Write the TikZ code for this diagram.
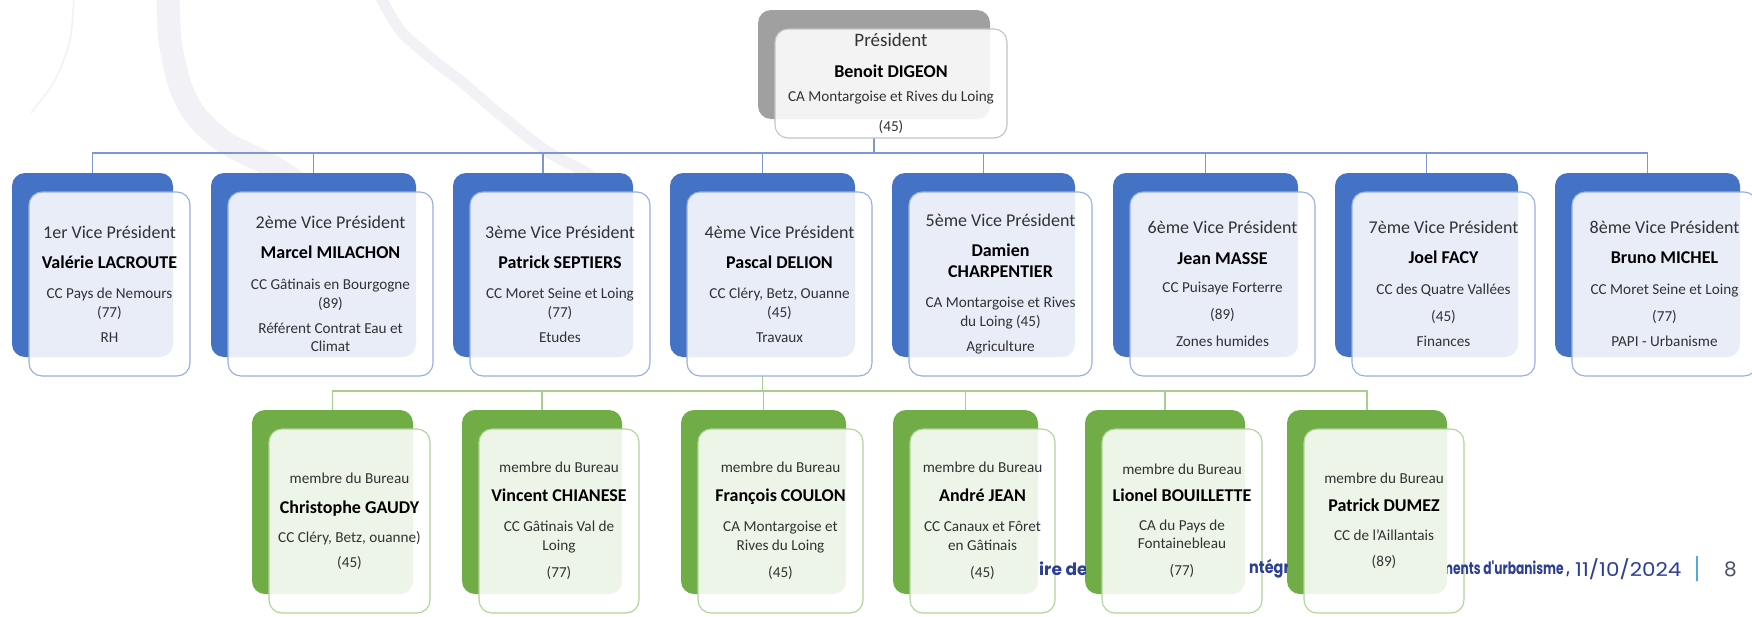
\documentclass[tikz,border=0pt]{standalone}
\usepackage{fontspec}
\usepackage{graphicx}
\setmainfont{Carlito}
\newfontfamily\footfont{Poppins}
\usetikzlibrary{backgrounds,calc}

\definecolor{vpblue}{RGB}{68,114,196}
\definecolor{bgreen}{RGB}{112,173,71}
\definecolor{pgray}{RGB}{160,160,160}
\definecolor{blueedge}{RGB}{150,175,220}
\definecolor{greenedge}{RGB}{175,212,150}
\definecolor{grayedge}{RGB}{195,195,195}
\definecolor{bluecon}{RGB}{125,152,208}
\definecolor{greencon}{RGB}{168,208,140}
\definecolor{txtgray}{RGB}{50,50,50}
\definecolor{footblue}{RGB}{44,62,150}
\definecolor{footbar}{RGB}{80,170,225}
\definecolor{footnum}{RGB}{70,80,110}
\definecolor{wmark}{RGB}{242,242,246}

\newcommand\vptitle[1]{{\fontsize{18}{18.5}\selectfont #1}}
\newcommand\prtitle[1]{{\fontsize{19}{18.5}\selectfont #1}}
\newcommand\pname[1]{{\fontsize{18}{18.5}\selectfont\bfseries\color{black}#1}}

\newcommand\orgunit[8]{%
  \node[backbox, fill=#2, minimum width=#6pt, minimum height=#7pt] (#1b) at (#4,#5) {};
  \node[frontbox, draw=#3, minimum width=#6pt, minimum height=#7pt] (#1f) at ([shift={(17,19)}]#1b.north west) {};
  \node[boxtext] (#1t) at (#1f.center) {#8};
}

\begin{document}
\begin{tikzpicture}[x=1pt,y=-1pt,
  backbox/.style={rectangle, rounded corners=13pt, inner sep=0pt, outer sep=0pt, anchor=north west, draw=none},
  frontbox/.style={rectangle, rounded corners=13pt, inner sep=0pt, outer sep=0pt, anchor=north west, fill=white, fill opacity=0.88, line width=1.1pt},
  boxtext/.style={align=center, inner sep=0pt, text=txtgray, font=\fontsize{15.2}{18.5}\selectfont},
  bluelink/.style={draw=bluecon, line width=1.5pt},
  greenlink/.style={draw=greencon, line width=1.5pt},
  foot/.style={inner sep=0pt, anchor=west, text=footblue, font=\footfont\fontsize{17}{20}\selectfont},
]
\useasboundingbox (0,0) rectangle (1752,616);
\clip (0,0) rectangle (1752,616);

% President
\orgunit{pres}{pgray}{grayedge}{758}{10}{232}{109}{\prtitle{Président}\\[12pt]\pname{Benoit DIGEON}\\[5.5pt]CA Montargoise et Rives du Loing\\[11.5pt](45)}

% Vice presidents
\orgunit{vpa}{vpblue}{blueedge}{12}{173}{161}{184}{\vptitle{1er Vice Président}\\[11.5pt]\pname{Valérie LACROUTE}\\[12pt]CC Pays de Nemours\\(77)\\[6.5pt]RH}
\orgunit{vpb}{vpblue}{blueedge}{211}{173}{205}{184}{\vptitle{2ème Vice Président}\\[11.5pt]\pname{Marcel MILACHON}\\[13pt]CC Gâtinais en Bourgogne\\(89)\\[6.5pt]Référent Contrat Eau et\\Climat}
\orgunit{vpc}{vpblue}{blueedge}{453}{173}{180}{184}{\vptitle{3ème Vice Président}\\[11.5pt]\pname{Patrick SEPTIERS}\\[12pt]CC Moret Seine et Loing\\(77)\\[6.5pt]Etudes}
\orgunit{vpd}{vpblue}{blueedge}{670}{173}{185}{184}{\vptitle{4ème Vice Président}\\[11.5pt]\pname{Pascal DELION}\\[12pt]CC Cléry, Betz, Ouanne\\(45)\\[6.5pt]Travaux}
\orgunit{vpe}{vpblue}{blueedge}{892}{173}{183}{184}{\vptitle{5ème Vice Président}\\[11.5pt]\pname{Damien}\\[3pt]\pname{CHARPENTIER}\\[11.5pt]CA Montargoise et Rives\\du Loing (45)\\[6.5pt]Agriculture}
\orgunit{vpf}{vpblue}{blueedge}{1113}{173}{185}{184}{\vptitle{6ème Vice Président}\\[12pt]\pname{Jean MASSE}\\[10pt]CC Puisaye Forterre\\[8.5pt](89)\\[8.5pt]Zones humides}
\orgunit{vpg}{vpblue}{blueedge}{1335}{173}{183}{184}{\vptitle{7ème Vice Président}\\[11.5pt]\pname{Joel FACY}\\[12pt]CC des Quatre Vallées\\[8.5pt](45)\\[6.5pt]Finances}
\orgunit{vph}{vpblue}{blueedge}{1555}{173}{185}{184}{\vptitle{8ème Vice Président}\\[11.5pt]\pname{Bruno MICHEL}\\[12pt]CC Moret Seine et Loing\\[8.5pt](77)\\[6.5pt]PAPI - Urbanisme}

% Members of the board
\orgunit{ma}{bgreen}{greenedge}{252}{410}{161}{184}{membre du Bureau\\[11.5pt]\pname{Christophe GAUDY}\\[10.5pt]CC Cléry, Betz, ouanne)\\[6.5pt](45)}
\orgunit{mb}{bgreen}{greenedge}{462}{410}{160}{184}{membre du Bureau\\[10.5pt]\pname{Vincent CHIANESE}\\[11.5pt]CC Gâtinais Val de\\Loing\\[8.5pt](77)}
\orgunit{mc}{bgreen}{greenedge}{681}{410}{165}{184}{membre du Bureau\\[10.5pt]\pname{François COULON}\\[11.5pt]CA Montargoise et\\Rives du Loing\\[8.5pt](45)}
\orgunit{md}{bgreen}{greenedge}{893}{410}{145}{184}{membre du Bureau\\[10.5pt]\pname{André JEAN}\\[11.5pt]CC Canaux et Fôret\\en Gâtinais\\[8.5pt](45)}
\orgunit{me}{bgreen}{greenedge}{1085}{410}{160}{184}{membre du Bureau\\[8.5pt]\pname{Lionel BOUILLETTE}\\[10.5pt]CA du Pays de\\Fontainebleau\\[8.5pt](77)}
\orgunit{mf}{bgreen}{greenedge}{1287}{410}{160}{184}{membre du Bureau\\[9.5pt]\pname{Patrick DUMEZ}\\[10.5pt]CC de l'Aillantais\\[7.5pt](89)}

% Footer fragments visible between the boxes
\begin{scope}
  \clip (1038,545) rectangle (1085,595);
  \node[foot] (fa) at (1039,569) {\bfseries ire de};
\end{scope}
\begin{scope}
  \clip (1245,545) rectangle (1287,595);
  \node[foot] (fb) at (1249,569) {\bfseries\scalebox{0.85}[1]{ntégra}};
\end{scope}
\begin{scope}
  \clip (1447,545) rectangle (1690,595);
  \node[foot] (fc) at (1440,569) {\bfseries\scalebox{0.72}[1]{ments d'urbanisme ,}};
\end{scope}
\node[foot, font=\footfont\fontsize{19}{20}\selectfont] (fd) at (1575,569) {\scalebox{1.13}[1]{11/10/2024}};
\coordinate (bartop) at (1697,556);
\coordinate (barbot) at (1697,581);
\draw[footbar, line width=2.5pt] (bartop) -- (barbot);
\node[foot, text=footnum, font=\footfont\fontsize{20}{22}\selectfont] (fnum) at (1724,569) {8};

\begin{pgfonlayer}{background}
  \fill[white] (0,0) rectangle (1752,616);
  % watermark swooshes
  \draw[wmark, line width=23pt] plot[smooth] coordinates {(168,-10) (170,40) (180,85) (196,116) (226,143) (275,168) (330,205)};
  \draw[wmark, line width=11pt] plot[smooth] coordinates {(377,-10) (400,30) (437,63) (462,82) (492,108) (545,150) (590,175) (630,205)};
  \draw[wmark, line width=1.5pt] plot[smooth] coordinates {(74,-5) (70,40) (55,80) (31,113)};
  % blue connectors
  \coordinate (busy) at (0,153);
  \foreach \v in {vpa,vpb,vpc,vpd,vpe,vpf,vpg,vph}{
    \draw[bluelink] (presb.south |- presf.south) -- (presb.south |- busy) -| (\v b.north);
  }
  % green connectors
  \coordinate (gbusy) at (0,391);
  \foreach \m in {ma,mb,mc,md,me,mf}{
    \draw[greenlink] (vpdb.south |- vpdf.south) -- (vpdb.south |- gbusy) -| (\m b.north);
  }
\end{pgfonlayer}
\end{tikzpicture}
\end{document}
